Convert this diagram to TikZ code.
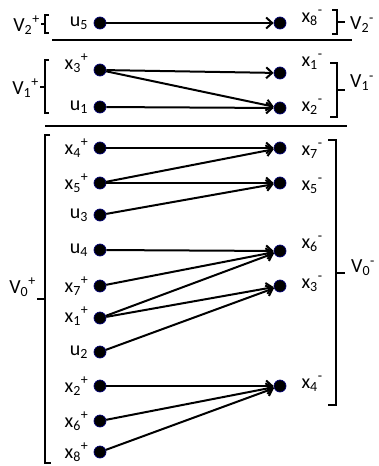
\documentclass[tikz,border=0pt]{standalone}
\usepackage{fontspec}
\setmainfont{Carlito}
\usetikzlibrary{arrows.meta,positioning}
\newcommand{\vx}[3]{#1\textsubscript{#2}\textsuperscript{#3}}

\begin{document}
\begin{tikzpicture}[x=1pt,y=-1pt,font=\fontsize{20}{23}\selectfont]

\tikzset{
dot/.style={
    circle,
    fill=black,
    draw=blue!45!black,
    line width=0.7pt,
    minimum size=12pt,
    inner sep=0pt
},
lbl/.style={inner sep=1pt},
arr/.style={-{Straight Barb[length=6pt,width=11pt,line width=2pt]},line width=2pt},
brk/.style={line width=1.4pt},
sep/.style={line width=1.2pt}
}

\useasboundingbox (0,0) rectangle (378,466);

% left side
\foreach \name/\y/\txt/\dy in {
    u5/23/{\vx{u}{5}{}}/0,
    x3p/70/{\vx{x}{3}{+}}/-7,
    u1/107/{\vx{u}{1}{}}/0,
    x4p/148/{\vx{x}{4}{+}}/0,
    x5p/183/{\vx{x}{5}{+}}/0,
    u3/215/{\vx{u}{3}{}}/0,
    u4/250/{\vx{u}{4}{}}/0,
    x7p/286/{\vx{x}{7}{+}}/0,
    x1p/318/{\vx{x}{1}{+}}/-2,
    u2/352/{\vx{u}{2}{}}/0,
    x2p/386/{\vx{x}{2}{+}}/0,
    x6p/421/{\vx{x}{6}{+}}/0,
    x8p/452/{\vx{x}{8}{+}}/0}{
  \node[dot] (\name) at (100,\y) {};
  \node[lbl, left=4pt of \name, yshift=-\dy pt] (l\name) {\txt};
}

% right side
\foreach \name/\y/\txt/\dy in {
    x8m/23/{\vx{x}{8}{-}}/-5,
    x1m/73/{\vx{x}{1}{-}}/-11,
    x2m/108/{\vx{x}{2}{-}}/-1,
    x7m/148/{\vx{x}{7}{-}}/3,
    x5m/183/{\vx{x}{5}{-}}/3,
    x6m/251/{\vx{x}{6}{-}}/-7,
    x3m/286/{\vx{x}{3}{-}}/-2,
    x4m/386/{\vx{x}{4}{-}}/-2}{
  \node[dot] (\name) at (280,\y) {};
  \node[lbl, right=14pt of \name, yshift=-\dy pt] (l\name) {\txt};
}

% edges
\foreach \a/\b in {u5/x8m, x3p/x1m, x3p/x2m, u1/x2m, x4p/x7m, x5p/x7m,
    x5p/x5m, u3/x5m, u4/x6m, x7p/x6m, x1p/x6m, x1p/x3m, u2/x3m,
    x2p/x4m, x6p/x4m, x8p/x4m}
  \draw[arr] (\a) -- (\b);

% separators
\draw[sep] (52,40) -- (352,40);
\draw[sep] (45,126) -- (347,126);

% brackets, left
\draw[brk] (49,15) -- (45,15) -- (45,33) -- (49,33);
\draw[brk] (45,24) -- (41,24);
\draw[brk] (49,60) -- (45,60) -- (45,113) -- (49,113);
\draw[brk] (45,87) -- (40,87);
\draw[brk] (50,135) -- (45,135) -- (45,463) -- (51,463);
\draw[brk] (45,299) -- (37,299);

% brackets, right
\draw[brk] (332,10) -- (337,10) -- (337,34) -- (332,34);
\draw[brk] (337,22) -- (345,22);
\draw[brk] (330,63) -- (337,63) -- (337,117) -- (330,117);
\draw[brk] (337,90) -- (345,90);
\draw[brk] (328,140) -- (336,140) -- (336,405) -- (328,405);
\draw[brk] (336,273) -- (345,273);

% set names
\node[lbl, anchor=east] (V2p) at (41,25) {\vx{V}{2}{+}};
\node[lbl, anchor=east] (V1p) at (40,88) {\vx{V}{1}{+}};
\node[lbl, anchor=east] (V0p) at (37,287) {\vx{V}{0}{+}};
\node[lbl, anchor=west] (V2m) at (349,25) {\vx{V}{2}{-}};
\node[lbl, anchor=west] (V1m) at (349,83) {\vx{V}{1}{-}};
\node[lbl, anchor=west] (V0m) at (350,268) {\vx{V}{0}{-}};

\end{tikzpicture}
\end{document}
